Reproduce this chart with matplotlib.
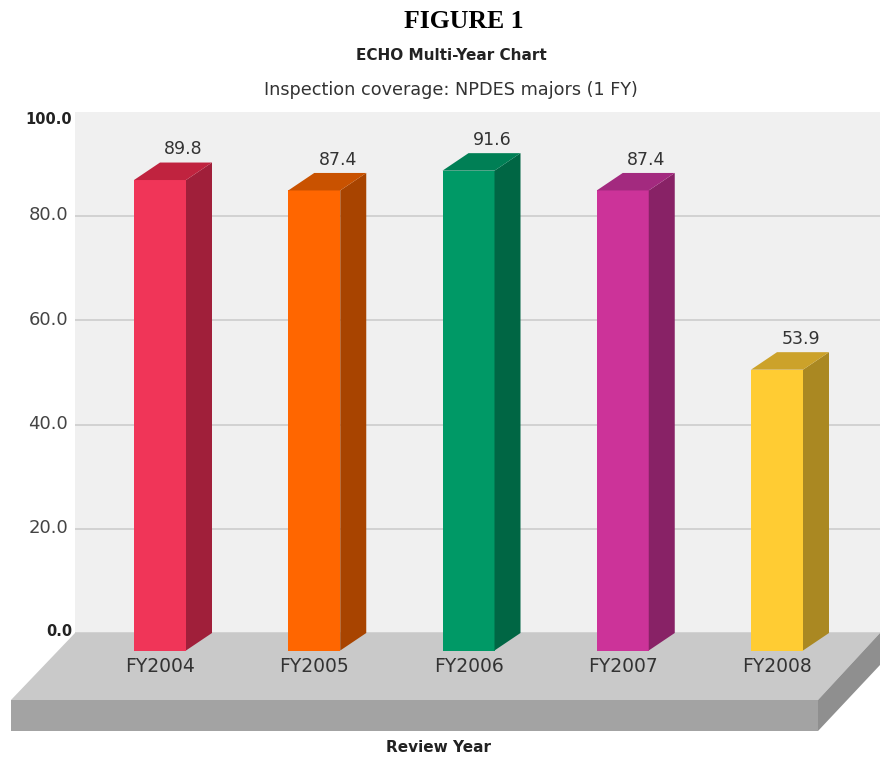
import numpy as np
import matplotlib
matplotlib.use("Agg")
import matplotlib.pyplot as plt
from matplotlib.patches import Polygon
from matplotlib.transforms import ScaledTranslation

# Values: printed labels, and where the drawn bars actually reach
years=["FY2004","FY2005","FY2006","FY2007","FY2008"]
coverage=[89.8,87.4,91.6,87.4,53.9]
bar_tops=[90.3,88.3,92.1,88.3,53.9]
front_colors=["#f03558","#ff6600","#009966","#cc3399","#ffcc33"]
side_colors=["#a01f3a","#a84400","#006644","#882266","#aa8822"]
top_colors=["#c0233f","#c95200","#007f55","#a32a7f","#cca22a"]
yticks=[0,20,40,60,80,100]

W,H=880,757
fig=plt.figure(figsize=(W/100,H/100),dpi=100,facecolor="white")
# wall of the chart, in pixels of the picture
left,right,top,bottom=75,880,112,633
ax=fig.add_axes([left/W,1-bottom/H,(right-left)/W,(bottom-top)/H])

# one category is 154.25 px wide, one value unit is 5.21 px
xstep=154.25
ystep=(bottom-top)/100
x0=160
ax.set_xlim((left-x0)/xstep,(right-x0)/xstep)
ax.set_ylim(0,100)
ax.set_facecolor("#f0f0f0")
for s in ax.spines.values():
    s.set_visible(False)

dx=26/xstep
dy=17.5/ystep
barw=52/xstep
pos=np.arange(len(years))

# Floor slab
floor_l=(11-x0)/xstep
floor_r=(818-x0)/xstep
floor_end=(880-x0)/xstep
xa,xb=ax.get_xlim()
floor_y=-67/ystep
slab_y=-98/ystep
ax.add_patch(Polygon([(xa,0),(floor_end,0),(floor_r,floor_y),(floor_l,floor_y)],color="#c9c9c9",lw=0,clip_on=False,zorder=1))
ax.add_patch(Polygon([(floor_l,floor_y),(floor_r,floor_y),(floor_r,slab_y),(floor_l,slab_y)],color="#a3a3a3",lw=0,clip_on=False,zorder=1))
ax.add_patch(Polygon([(floor_r,floor_y),(floor_end,0),(floor_end,-32/ystep),(floor_r,slab_y)],color="#8f8f8f",lw=0,clip_on=False,zorder=1))

# Bars, front face then side and top
ax.bar(pos,bar_tops,width=barw,bottom=-dy,color=front_colors,lw=0,zorder=2,clip_on=False)
for i,v in enumerate(bar_tops):
    xl=pos[i]-barw/2
    xr=pos[i]+barw/2
    ax.add_patch(Polygon([(xr,-dy),(xr+dx,0),(xr+dx,v),(xr,v-dy)],color=side_colors[i],lw=0,zorder=2,clip_on=False))
    ax.add_patch(Polygon([(xl,v-dy),(xr,v-dy),(xr+dx,v),(xl+dx,v)],color=top_colors[i],lw=0,zorder=2,clip_on=False))
    ax.annotate(f"{coverage[i]:.1f}",(pos[i],v),xytext=(17,9.5),textcoords="offset points",ha="center",va="center",fontsize=12.5,color="#333333",zorder=3)

# Axes ticks and labels
ax.set_yticks(yticks)
ax.set_yticklabels([f"{t:.1f}" for t in yticks],fontsize=13,color="#444444")
ax.yaxis.grid(True,color="#cccccc",lw=1.2)
ax.get_ygridlines()[-1].set_visible(False)
ax.tick_params(axis="y",length=0,pad=2)
ax.set_xticks(pos)
ax.set_xticklabels(years,fontsize=13.5,color="#333333")
ax.tick_params(axis="x",length=0,pad=17)
for lab,t in zip(ax.get_yticklabels(),yticks):
    shift_y=-4/72 if t==100 else 2/72
    shift_x=-4/100
    if t in (0,100):
        lab.set_fontweight("bold")
        lab.set_fontsize(10.5)
        lab.set_color("#222222")
        shift_x=0
    lab.set_transform(lab.get_transform()+ScaledTranslation(shift_x,shift_y,fig.dpi_scale_trans))

# Titles
fig.text(464/W,1-22/H,"FIGURE 1",family="Liberation Serif",weight="bold",fontsize=18.5,ha="center",va="center",color="black")
fig.text(451/W,1-56/H,"ECHO Multi-Year Chart",weight="bold",fontsize=11,ha="center",va="center",color="#222222")
fig.text(451/W,1-90/H,"Inspection coverage: NPDES majors (1 FY)",fontsize=12.7,ha="center",va="center",color="#333333")
fig.text(438/W,1-748/H,"Review Year",weight="bold",fontsize=11,ha="center",va="center",color="#222222")

plt.savefig("out.png",dpi=100)
plt.close()
